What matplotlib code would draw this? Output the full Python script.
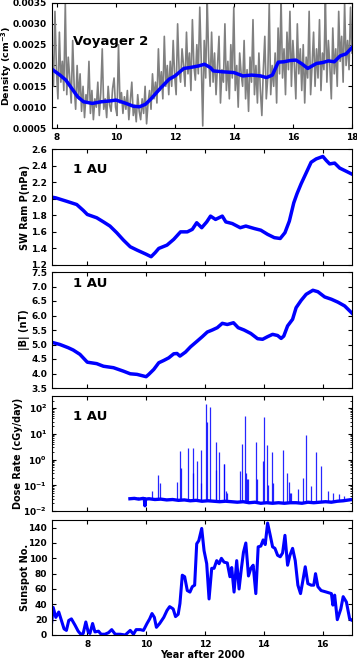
import numpy as np
import matplotlib
matplotlib.use('Agg')
from matplotlib import pyplot as plt
from matplotlib.ticker import FormatStrFormatter

plt.rcParams['font.family'] = 'DejaVu Sans'
plt.rcParams['font.weight'] = 'bold'

# Voyager 2 density, raw (units of 1e-5 cm^-3) sampled evenly 7.83 -> 18.0
dens_raw = [240, 150, 330, 190, 120, 280, 160, 210, 140, 350,
            130, 220, 170, 110, 260, 150, 95, 200, 120, 180,
            90, 150, 75, 130, 110, 210, 85, 140, 70, 120,
            100, 160, 80, 135, 240, 95, 120, 75, 150, 105,
            90, 145, 170, 100, 80, 250, 110, 135, 85, 125,
            95, 140, 70, 115, 160, 80, 105, 65, 130, 90,
            70, 120, 85, 150, 60, 110, 140, 95, 180, 120,
            160, 110, 240, 140, 185, 120, 270, 150, 200, 130,
            210, 150, 260, 175, 130, 300, 190, 160, 240, 200,
            150, 280, 180, 230, 140, 310, 200, 165, 250, 180,
            340, 210, 55, 260, 170, 360, 220, 150, 280, 160,
            230, 130, 200, 270, 110, 190, 160, 300, 140, 210,
            120, 250, 170, 340, 140, 200, 100, 230, 180, 150,
            260, 120, 190, 90, 220, 160, 310, 130, 200, 110,
            230, 140, 80, 190, 270, 120, 170, 350, 130, 200,
            150, 230, 110, 290, 180, 360, 170, 240, 130, 280,
            190, 330, 150, 260, 200, 120, 300, 180, 240, 140,
            250, 110, 220, 170, 330, 130, 200, 280, 150, 240,
            170, 310, 140, 230, 190, 360, 160, 260, 200, 120,
            290, 180, 240, 150, 330, 210, 270, 160, 350, 200,
            260, 190, 340, 230]
dens_raw_t = np.linspace(7.83, 18.0, len(dens_raw))

# smoothed density
dens_t = [7.83, 8.1, 8.3, 8.5, 8.7, 8.9, 9.2, 9.5, 9.8, 10.0, 10.3, 10.6, 10.8, 11.0,
          11.2, 11.5, 11.8, 12.0, 12.3, 12.5, 12.8, 13.0, 13.2, 13.3, 13.6, 14.0, 14.3,
          14.6, 14.9, 15.1, 15.3, 15.5, 15.7, 15.9, 16.1, 16.3, 16.5, 16.8, 17.0, 17.2,
          17.4, 17.6, 17.8, 18.0]
dens_s = [0.00191, 0.00177, 0.00165, 0.00145, 0.00125, 0.00113, 0.00109, 0.00113,
          0.00115, 0.00117, 0.00110, 0.00102, 0.00101, 0.00107, 0.00121, 0.00145,
          0.00167, 0.00175, 0.00193, 0.00195, 0.00199, 0.00203, 0.00195, 0.00187,
          0.00185, 0.00183, 0.00175, 0.00177, 0.00175, 0.00171, 0.00177, 0.00208,
          0.00209, 0.00212, 0.00213, 0.00204, 0.00193, 0.00205, 0.00207, 0.00211,
          0.00209, 0.00223, 0.00228, 0.00243]

# solar wind ram pressure at 1 AU
ram_t = [6.78, 6.93, 7.29, 7.64, 7.86, 8.0, 8.32, 8.55, 8.77, 9.0, 9.23, 9.46, 9.69,
         10.0, 10.17, 10.31, 10.43, 10.71, 10.94, 11.17, 11.4, 11.57, 11.72, 11.89,
         12.06, 12.19, 12.36, 12.59, 12.71, 12.93, 13.2, 13.39, 13.68, 13.9, 14.13,
         14.36, 14.56, 14.72, 14.87, 15.02, 15.13, 15.27, 15.44, 15.61, 15.78, 16.01,
         16.13, 16.24, 16.41, 16.58, 16.81, 16.98]
ram_p = [2.02, 2.01, 1.97, 1.93, 1.86, 1.81, 1.77, 1.72, 1.67, 1.59, 1.50, 1.42, 1.38,
         1.33, 1.30, 1.35, 1.40, 1.44, 1.51, 1.60, 1.60, 1.63, 1.71, 1.65, 1.72, 1.79,
         1.75, 1.79, 1.72, 1.70, 1.65, 1.67, 1.64, 1.62, 1.57, 1.53, 1.52, 1.59, 1.73,
         1.95, 2.06, 2.18, 2.31, 2.44, 2.48, 2.51, 2.46, 2.42, 2.43, 2.37, 2.33, 2.30]

# |B| at 1 AU
b_t = [6.78, 7.07, 7.35, 7.52, 7.75, 8.0, 8.32, 8.55, 8.89, 9.23, 9.46, 9.69, 10.0,
       10.09, 10.26, 10.43, 10.6, 10.77, 10.94, 11.05, 11.15, 11.34, 11.51, 11.74,
       11.91, 12.08, 12.25, 12.42, 12.59, 12.76, 12.97, 13.13, 13.33, 13.56, 13.79,
       13.96, 14.13, 14.3, 14.47, 14.59, 14.68, 14.81, 14.98, 15.1, 15.27, 15.44,
       15.67, 15.84, 16.07, 16.3, 16.52, 16.75, 17.04]
b_mag = [5.08, 5.00, 4.89, 4.81, 4.66, 4.39, 4.34, 4.25, 4.20, 4.08, 3.99, 3.97, 3.89,
         3.97, 4.14, 4.37, 4.45, 4.54, 4.68, 4.69, 4.60, 4.74, 4.92, 5.12, 5.27, 5.43,
         5.50, 5.58, 5.73, 5.69, 5.75, 5.58, 5.50, 5.38, 5.20, 5.18, 5.27, 5.35, 5.31,
         5.21, 5.29, 5.64, 5.87, 6.27, 6.52, 6.73, 6.87, 6.82, 6.64, 6.56, 6.46, 6.33, 6.04]

# dose rate: quiet background and SEP event peaks
dose_t = [9.45, 9.6, 9.75, 9.9, 9.94, 9.96, 9.98, 10.1, 10.3, 10.5, 10.7, 10.9, 11.1,
          11.3, 11.5, 11.7, 11.9, 12.1, 12.3, 12.5, 12.7, 12.9, 13.1, 13.3, 13.5, 13.7,
          13.9, 14.1, 14.3, 14.5, 14.7, 14.9, 15.1, 15.3, 15.5, 15.7, 15.9, 16.1, 16.3,
          16.5, 16.7, 16.9, 17.0]
dose_bg = [0.030, 0.031, 0.029, 0.031, 0.030, 0.016, 0.029, 0.030, 0.028, 0.029,
           0.027, 0.028, 0.026, 0.027, 0.025, 0.026, 0.024, 0.025, 0.024, 0.023,
           0.024, 0.023, 0.022, 0.023, 0.021, 0.022, 0.020, 0.021, 0.020, 0.021,
           0.020, 0.021, 0.021, 0.020, 0.022, 0.021, 0.022, 0.023, 0.022, 0.024,
           0.025, 0.027, 0.028]
sep_t = [9.72, 10.2, 10.41, 10.46, 11.04, 11.16, 11.19, 11.41, 11.58, 11.61, 11.74, 11.86,
         11.88, 12.05, 12.07, 12.17, 12.36, 12.38, 12.48, 12.64, 12.66, 12.70, 12.75, 13.18,
         13.25, 13.35, 13.38, 13.44, 13.47, 13.73, 13.77, 13.97, 14.01, 14.12, 14.14,
         14.27, 14.30, 14.66, 14.79, 14.87, 14.90, 14.93, 15.15, 15.33, 15.42, 15.62,
         15.78, 15.95, 16.17, 16.36, 16.55, 16.74]
sep_peak = [0.036, 0.06, 0.25, 0.12, 0.14, 2.1, 0.48, 2.9, 2.9, 0.3, 0.9, 0.12, 2.3, 150,
            30, 110, 4.8, 0.4, 2.0, 0.7, 0.7, 0.06, 0.05, 0.35, 4.2, 50, 0.3, 0.17, 0.17,
            4.8, 0.17, 0.9, 45, 3.6, 0.1, 2.0, 0.12, 2.3, 0.3, 0.14, 0.05, 0.05, 0.07,
            0.2, 8.7, 0.09, 2.0, 0.55, 0.06, 0.05, 0.045, 0.04]

# monthly sunspot number
ssn_t = [6.78, 6.84, 6.93, 7.03, 7.12, 7.21, 7.29, 7.37, 7.46, 7.58, 7.69, 7.78, 7.86,
         7.95, 8.03, 8.09, 8.18, 8.26, 8.38, 8.47, 8.6, 8.72, 8.83, 8.95, 9.12, 9.29,
         9.46, 9.57, 9.66, 9.8, 9.91, 10.03, 10.12, 10.2, 10.28, 10.35, 10.46, 10.6,
         10.71, 10.8, 10.92, 11.0, 11.09, 11.15, 11.23, 11.31, 11.4, 11.49, 11.57,
         11.65, 11.72, 11.79, 11.89, 11.97, 12.06, 12.14, 12.23, 12.31, 12.4, 12.48,
         12.56, 12.65, 12.76, 12.85, 12.91, 12.99, 13.08, 13.16, 13.24, 13.31, 13.39,
         13.48, 13.56, 13.64, 13.73, 13.81, 13.9, 13.98, 14.05, 14.13, 14.22, 14.3,
         14.38, 14.47, 14.56, 14.64, 14.72, 14.81, 14.89, 14.98, 15.07, 15.16, 15.25,
         15.33, 15.41, 15.5, 15.61, 15.7, 15.76, 15.84, 15.95, 16.13, 16.3, 16.35,
         16.41, 16.5, 16.62, 16.7, 16.81, 16.92, 17.0, 17.07]
ssn = [13, 36, 23, 30, 19, 8, 6, 19, 21, 13, 5, 1, 2, 17, 4, 2, 15, 4, 5, 1, 1, 3, 7,
       1, 1, 0, 6, 1, 7, 7, 6, 15, 21, 28, 23, 10, 15, 23, 32, 37, 34, 24, 27, 41, 78,
       76, 58, 56, 63, 65, 119, 123, 139, 110, 93, 47, 87, 87, 97, 93, 100, 95, 94, 76,
       88, 56, 97, 60, 87, 108, 120, 77, 87, 91, 54, 115, 116, 124, 118, 146, 130, 115,
       113, 104, 102, 107, 130, 91, 104, 113, 97, 65, 54, 71, 89, 67, 65, 65, 80, 63,
       58, 56, 54, 39, 52, 20, 34, 50, 43, 21, 19, 23]

W, H = 357.0, 659.0
fig = plt.figure(figsize=(3.57, 6.59), dpi=100)

def make_ax(top, bottom):
    return fig.add_axes([52 / W, 1 - bottom / H, 300 / W, (bottom - top) / H])

def style(ax, size=6.5):
    ax.tick_params(direction='in', top=True, right=True, labelsize=size, length=3)
    ax.tick_params(which='minor', direction='in', top=True, right=True, length=1.5)
    for lab in ax.get_xticklabels() + ax.get_yticklabels():
        lab.set_fontweight('bold')

blue = '#0000ff'

# panel 1: Voyager 2 density
ax1 = make_ax(3, 128)
ax1.plot(dens_raw_t, np.array(dens_raw) * 1e-5, color='#808080', lw=1.2)
ax1.plot(dens_t, dens_s, color=blue, lw=2.5)
ax1.set_xlim(7.83, 18)
ax1.set_ylim(0.0005, 0.0035)
ax1.set_xticks(np.arange(8, 19, 2))
ax1.set_yticks(np.arange(0.0005, 0.0036, 0.0005))
ax1.yaxis.set_major_formatter(FormatStrFormatter('%.4f'))
ax1.set_ylabel('Density (cm$^{-3}$)', fontsize=6.8, fontweight='bold')
ax1.yaxis.set_label_coords(-0.125, 0.5)
ax1.text(0.07, 0.69, 'Voyager 2', transform=ax1.transAxes, fontsize=9.5,
         fontweight='bold', va='center')
style(ax1)

xl = (6.8, 17.0)
xt = np.arange(8, 17, 2)

# panel 2: ram pressure
ax2 = make_ax(149, 265)
ax2.plot(ram_t, ram_p, color=blue, lw=2.5)
ax2.set_xlim(*xl)
ax2.set_ylim(1.2, 2.6)
ax2.set_xticks(xt)
ax2.set_xticklabels([])
ax2.set_yticks(np.arange(1.2, 2.61, 0.2))
ax2.yaxis.set_major_formatter(FormatStrFormatter('%.1f'))
ax2.set_ylabel('SW Ram P(nPa)', fontsize=7, fontweight='bold')
ax2.yaxis.set_label_coords(-0.075, 0.5)
ax2.text(0.07, 0.82, '1 AU', transform=ax2.transAxes, fontsize=9.5,
         fontweight='bold', va='center')
style(ax2)

# panel 3: |B|
ax3 = make_ax(272, 388)
ax3.plot(b_t, b_mag, color=blue, lw=2.5)
ax3.set_xlim(*xl)
ax3.set_ylim(3.5, 7.5)
ax3.set_xticks(xt)
ax3.set_xticklabels([])
ax3.set_yticks(np.arange(3.5, 7.51, 0.5))
ax3.yaxis.set_major_formatter(FormatStrFormatter('%.1f'))
ax3.set_ylabel('|B| (nT)', fontsize=7, fontweight='bold')
ax3.yaxis.set_label_coords(-0.075, 0.5)
ax3.text(0.07, 0.905, '1 AU', transform=ax3.transAxes, fontsize=9.5,
         fontweight='bold', va='center')
style(ax3)

# panel 4: dose rate
ax4 = make_ax(396, 511)
base = np.interp(sep_t, dose_t, dose_bg)
ax4.vlines(sep_t, base, sep_peak, color=blue, lw=0.9, alpha=0.85)
ax4.plot(dose_t, dose_bg, color=blue, lw=2.4)
ax4.set_yscale('log')
ax4.set_xlim(*xl)
ax4.set_ylim(0.01, 300)
ax4.set_xticks(xt)
ax4.set_xticklabels([])
ax4.set_yticks([0.01, 0.1, 1, 10, 100])
ax4.set_ylabel('Dose Rate (cGy/day)', fontsize=7, fontweight='bold')
ax4.yaxis.set_label_coords(-0.097, 0.5)
ax4.text(0.07, 0.82, '1 AU', transform=ax4.transAxes, fontsize=9.5,
         fontweight='bold', va='center')
style(ax4)

# panel 5: sunspots
ax5 = make_ax(520, 635)
ax5.plot(ssn_t, ssn, color=blue, lw=2.2)
ax5.set_xlim(*xl)
ax5.set_ylim(0, 150)
ax5.set_xticks(xt)
ax5.set_yticks(np.arange(0, 141, 20))
ax5.set_ylabel('Sunspot No.', fontsize=7, fontweight='bold')
ax5.yaxis.set_label_coords(-0.075, 0.5)
ax5.set_xlabel('Year after 2000', fontsize=7, fontweight='bold', labelpad=1)
style(ax5)

fig.savefig('out.png', dpi=100)
